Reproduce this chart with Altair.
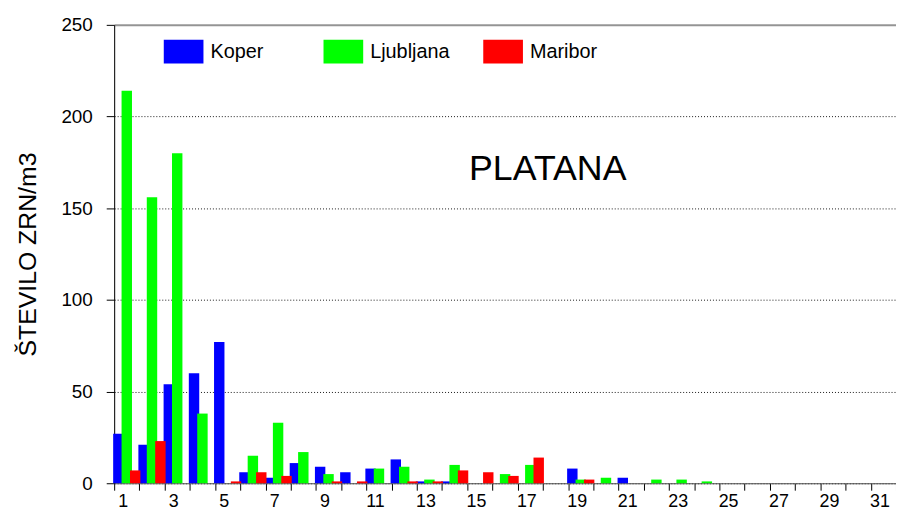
import altair as alt
import pandas as pd

days = list(range(1, 32))
series_names = ["Koper", "Ljubljana", "Maribor"]
series_colors = ["#0000FF", "#00FF00", "#FF0000"]

koper = [27, 21, 54, 60, 77, 6, 3, 11, 9, 6, 8, 13, 1, 1, 0, 0, 0, 0, 8, 0,
         3, 0, 0, 0, 0, 0, 0, 0, 0, 0, 0]
ljubljana = [214, 156, 180, 38, 0, 15, 33, 17, 5, 0, 8, 9, 2, 10, 0, 5, 10, 0, 2, 3,
             0, 2, 2, 1, 0, 0, 0, 0, 0, 0, 0]
maribor = [7, 23, 0, 0, 1, 6, 4, 0, 1, 1, 0, 1, 1, 7, 6, 4, 14, 0, 2, 0,
           0, 0, 0, 0, 0, 0, 0, 0, 0, 0, 0]

y_ticks = [0, 50, 100, 150, 200, 250]
chart_title = "PLATANA"
y_title = "ŠTEVILO ZRN/m3"

rows = []
for name, vals in zip(series_names, [koper, ljubljana, maribor]):
    for d, v in zip(days, vals):
        rows.append({"day": d, "series": name, "value": v})
df = pd.DataFrame(rows)

FONT = "Liberation Sans"

bars = alt.Chart(df).mark_bar(width=10.5).encode(
    x=alt.X(
        "day:O",
        scale=alt.Scale(paddingInner=0, paddingOuter=0),
        axis=alt.Axis(
            title=None,
            labelExpr="datum.value % 2 == 1 ? datum.label : ''",
            labelAngle=0,
            labelOverlap=False,
            tickBand="extent",
            tickSize=7,
            tickColor="#000000",
            domainColor="#555555",
            labelFontSize=18,
            labelFont=FONT,
            labelColor="#000000",
            labelPadding=2,
            labelOffset=-4,
            grid=False,
        ),
    ),
    xOffset=alt.XOffset(
        "series:N",
        sort=series_names,
        scale=alt.Scale(paddingInner=0, paddingOuter=0),
    ),
    y=alt.Y(
        "value:Q",
        scale=alt.Scale(domain=[0, 250], nice=False),
        axis=alt.Axis(
            title=y_title,
            values=y_ticks,
            tickSize=8,
            tickColor="#000000",
            domainColor="#000000",
            labelFontSize=19,
            labelFont=FONT,
            labelColor="#000000",
            labelPadding=14,
            titleFontSize=25,
            titleFont=FONT,
            titleFontWeight="normal",
            titleColor="#000000",
            titlePadding=21,
            grid=True,
            gridColor={"condition": {"test": "datum.value === 250", "value": "#8c8c8c"},
                       "value": "#000000"},
            gridDash={"condition": {"test": "datum.value === 250", "value": []},
                      "value": [1, 2]},
            gridWidth={"condition": {"test": "datum.value === 250", "value": 2},
                       "value": 1},
            gridOpacity=0.9,
        ),
    ),
    color=alt.Color(
        "series:N",
        sort=series_names,
        scale=alt.Scale(domain=series_names, range=series_colors),
        legend=alt.Legend(
            title=None,
            orient="none",
            legendX=50,
            legendY=7,
            direction="horizontal",
            columns=3,
            gridAlign="all",
            columnPadding=33,
            symbolType="M-1,-0.6H1V0.6H-1Z",
            symbolSize=1600,
            symbolStrokeWidth=0,
            symbolOpacity=1,
            labelFontSize=20,
            labelFont=FONT,
            labelColor="#000000",
            labelOffset=7,
            padding=0,
        ),
    ),
)

title_df = pd.DataFrame({"t": [chart_title]})
title_text = alt.Chart(title_df).mark_text(
    fontSize=36, font=FONT, align="center", baseline="alphabetic", color="#000000"
).encode(text="t:N", x=alt.value(437), y=alt.value(156))

chart = alt.layer(bars, title_text).properties(
    width=788,
    height=462,
    autosize=alt.AutoSizeParams(type="none"),
    padding={"left": 107, "top": 15, "right": 0, "bottom": 28},
).configure_view(stroke=None).configure(font=FONT)

chart.save("out.html", embed_options={"renderer": "svg", "actions": False})
